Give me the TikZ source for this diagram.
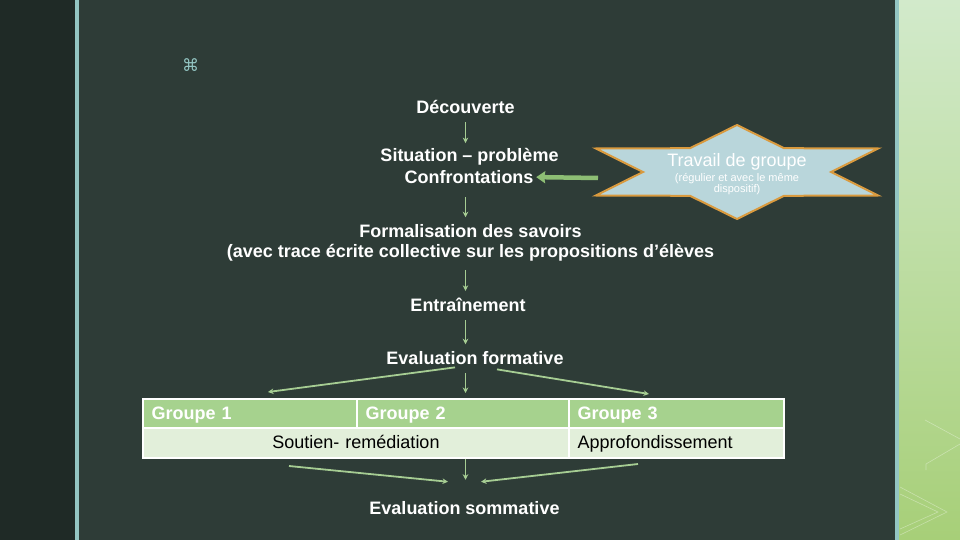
\documentclass[tikz,border=0pt]{standalone}
\usepackage{fontspec}
\setmainfont{Liberation Sans}
\newfontfamily\symbolfont{DejaVu Sans}
\usetikzlibrary{arrows.meta}

\definecolor{boardbg}{HTML}{2E3C37}
\definecolor{boardleft}{HTML}{1F2A26}
\definecolor{boardline}{HTML}{93C5C2}
\definecolor{flowgreen}{HTML}{A6CD93}
\definecolor{arrowgreen}{HTML}{8DBE74}
\definecolor{starfill}{HTML}{B9D6DB}
\definecolor{starborder}{HTML}{D99A3E}
\definecolor{headgreen}{HTML}{A6D28E}
\definecolor{rowgreen}{HTML}{E2EFDA}
\definecolor{paneltop}{HTML}{D2EACB}
\definecolor{panelbottom}{HTML}{A7CF78}

\begin{document}
\begin{tikzpicture}[
x=1pt, y=-1pt,
stage/.style={
text=white,
font=\bfseries\fontsize{18}{22}\selectfont,
inner sep=0pt,
anchor=base,
},
startext/.style={
text=white,
inner sep=0pt,
anchor=base,
},
flow/.style={
flowgreen,
line width=1.8pt,
arrows={-Stealth[length=5.5pt, width=5.5pt]},
shorten <=8.5pt,
shorten >=7pt,
},
branch/.style={
flow,
shorten <=0pt,
shorten >=0pt,
},
bigflow/.style={
arrowgreen,
line width=4.5pt,
arrows={-Stealth[length=9pt, width=12pt, inset=1pt]},
},
starbox/.style={
fill=starfill,
draw=starborder,
line width=2pt,
line join=miter,
},
cell/.style={
rectangle,
draw=white,
line width=2pt,
inner xsep=8.5pt,
inner ysep=5.75pt,
text height=15pt,
text depth=3pt,
font=\fontsize{18}{22}\selectfont,
align=left,
},
headcell/.style={
cell,
fill=headgreen,
text=white,
font=\bfseries\fontsize{18}{22}\selectfont,
},
bodycell/.style={
cell,
fill=rowgreen,
text=black,
},
]
\useasboundingbox (0,0) rectangle (960,540);

% board background
\fill [boardbg] (0,0) rectangle (960,540);
\fill [boardleft] (0,0) rectangle (75,540);
\fill [boardline] (75,0) rectangle (79,540);
\shade [top color=paneltop, bottom color=panelbottom] (899,0) rectangle (960,540);
\fill [boardline] (895,0) rectangle (899,540);
\draw [white, opacity=0.35, line width=0.6pt]
(925,420) -- (960,439)
(960,444) -- (926,464) -- (926,470)
(900,487) -- (947,512) -- (900,535)
(900,494) -- (938,512) -- (900,529)
;

\node [text=boardline, inner sep=0pt, font=\symbolfont\fontsize{17}{17}\selectfont]
at (190.5,65.5) (logo) {⌘};

% main sequence
\coordinate (axis) at (465.5,0);
\node [stage] at (465.5,113.5) (decouv) {Découverte};
\node [stage] at (469.5,161.5) (situ) {Situation – problème};
\node [stage] at (469,183.5) (confront) {Confrontations};
\node [stage] at (470.5,237.5) (formal) {Formalisation des savoirs};
\node [stage] at (470.5,257.5) (formaltrace)
{(avec trace écrite collective sur les propositions d’élèves};
\node [stage] at (468,311.5) (entrain) {Entraînement};
\node [stage] at (475,364.5) (evalf) {Evaluation formative};
\node [stage] at (464.5,514.5) (evals) {Evaluation sommative};

\draw [flow, shorten >=5pt] (axis |- decouv.south) -- (axis |- situ.north);
\draw [flow, shorten <=13.5pt] (axis |- confront.south) -- (axis |- formal.north);
\draw [flow, shorten <=8.5pt] (axis |- formaltrace.south) -- (axis |- entrain.north);
\draw [flow] (axis |- entrain.south) -- (axis |- evalf.north);

% group work star
\coordinate (star) at (737,172);
\draw [starbox] (star) +(120:94 and 27.5)
\foreach \a in {90,30,...,-210} {-- +(\a:163 and 47) -- +(\a-30:94 and 27.5)}
-- cycle;
\node [startext, font=\fontsize{18}{22}\selectfont] at (737,167) (travail)
{Travail de groupe};
\node [startext, font=\fontsize{11}{11}\selectfont] at (737,181.5) (regulier)
{(régulier et avec le même};
\node [startext, font=\fontsize{11}{11}\selectfont] at (737,192.5) (dispositif)
{dispositif)};
\draw [bigflow, shorten >=2.5pt] (star) ++(-139,6) -- (confront.east);

% groups table
\node [headcell, text width=197pt] at (250,413.25) (g1) {Groupe 1};
\node [headcell, text width=195pt] at (463,413.25) (g2) {Groupe 2};
\node [headcell, text width=198pt] at (676.5,413.25) (g3) {Groupe 3};
\node [bodycell, text width=409pt, align=center] at (356,442.75) (soutien)
{Soutien- remédiation};
\node [bodycell, text width=198pt] at (676.5,442.75) (approf)
{Approfondissement};

% branches to and from the groups
\draw [branch] (evalf.south) ++(-20,2.5) -- ([xshift=18pt, yshift=5.5pt]g1.north);
\draw [flow, shorten >=4.5pt] (axis |- evalf.south) -- (axis |- g2.north);
\draw [branch] (evalf.south) ++(22,4.5) -- ([xshift=-27.5pt, yshift=3.5pt]g3.north);

\draw [branch] (soutien.south) ++(-67,7.5) -- ([xshift=-16.5pt, yshift=19.5pt]evals.north);
\draw [branch, shorten >=21.5pt] (axis |- soutien.south) -- (axis |- evals.north);
\draw [branch] (approf.south) ++(-38.5,5.5) -- ([xshift=16.5pt, yshift=19.5pt]evals.north);

\end{tikzpicture}
\end{document}
